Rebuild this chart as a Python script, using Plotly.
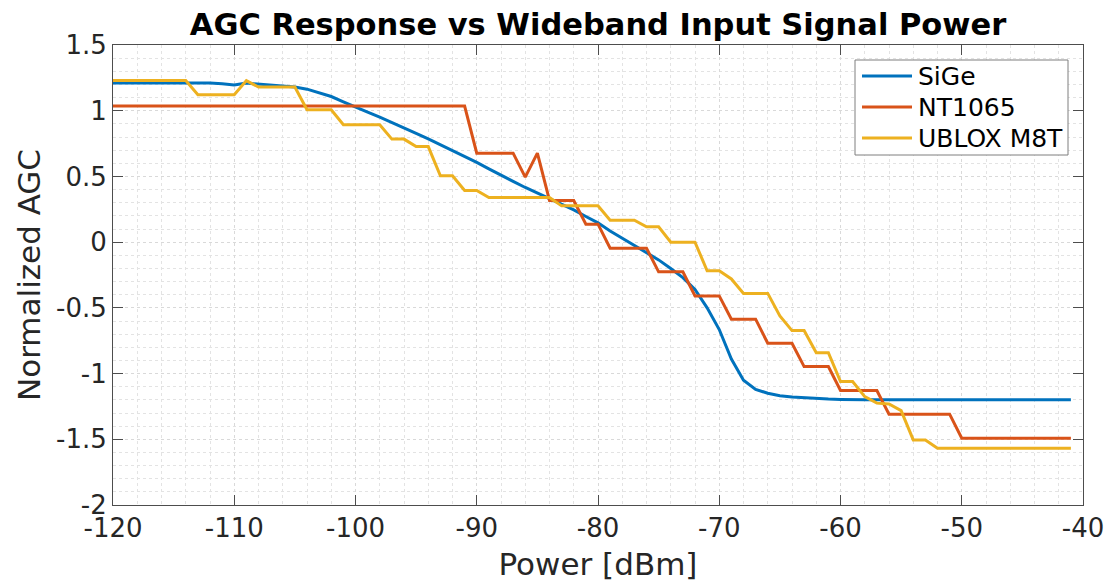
import plotly.graph_objects as go

power_dbm = list(range(-120, -40))  # -120 .. -41

sige = [1.21, 1.21, 1.212, 1.212, 1.212, 1.212, 1.212, 1.21, 1.21, 1.205,
        1.195, 1.21, 1.203, 1.197, 1.19, 1.18, 1.164, 1.138, 1.108, 1.068,
        1.026, 0.99, 0.951, 0.912, 0.872, 0.828, 0.786, 0.742, 0.697, 0.652,
        0.607, 0.558, 0.508, 0.462, 0.416, 0.372, 0.331, 0.29, 0.245, 0.195,
        0.147, 0.085, 0.03, -0.025, -0.08, -0.135, -0.2, -0.27, -0.36, -0.5,
        -0.665, -0.89, -1.05, -1.12, -1.15, -1.168, -1.178, -1.185, -1.19, -1.194,
        -1.197, -1.2, -1.2, -1.2, -1.2, -1.2, -1.2, -1.2, -1.2, -1.2,
        -1.2, -1.2, -1.2, -1.2, -1.2, -1.2, -1.2, -1.2, -1.2, -1.2]

nt1065 = [1.035] * 30 + [0.677, 0.677, 0.677, 0.677, 0.495, 0.677,
          0.317, 0.317, 0.317, 0.137, 0.137,
          -0.046, -0.046, -0.046, -0.046,
          -0.226, -0.226, -0.226,
          -0.409, -0.409, -0.409,
          -0.586, -0.586, -0.586,
          -0.769, -0.769, -0.769,
          -0.947, -0.947, -0.947,
          -1.129, -1.129, -1.129, -1.129,
          -1.309, -1.309, -1.309, -1.309, -1.309, -1.309,
          -1.492, -1.492, -1.492, -1.492, -1.492, -1.492, -1.492, -1.492, -1.492, -1.492]

ublox = [1.229] * 7 + [1.121] * 4 + [1.229] + [1.18] * 4 + [1.007] * 3 + [0.893] * 4 + \
        [0.784, 0.784, 0.727, 0.727, 0.505, 0.505, 0.393, 0.393] + [0.34] * 6 + \
        [0.276] * 4 + [0.167] * 3 + [0.117] * 2 + [0.0] * 3 + [-0.218] * 2 + [-0.28] + \
        [-0.39] * 3 + [-0.561] + [-0.673] * 2 + [-0.841] * 2 + [-1.061] * 2 + \
        [-1.175, -1.225, -1.231, -1.282] + [-1.505] * 2 + [-1.569] * 12

series_names = ["SiGe", "NT1065", "UBLOX M8T"]
series_colors = ["#0072BD", "#D95319", "#EDB120"]
x_ticks = list(range(-120, -39, 10))
y_ticks = [1.5, 1, 0.5, 0, -0.5, -1, -1.5, -2]

FONT = "DejaVu Sans"
W, H = 1107, 583
ML, MR, MT, MB = 113, 24, 45, 78
PW, PH = W - ML - MR, H - MT - MB


def px_x(p):  # window pixel -> paper x
    return (p - ML) / PW


def px_y(p):  # window pixel -> paper y
    return (H - MB - p) / PH


fig = go.Figure()
for name, ys, col in zip(series_names, [sige, nt1065, ublox], series_colors):
    fig.add_trace(go.Scatter(x=power_dbm, y=ys, mode="lines", name=name,
                             line=dict(color=col, width=3), showlegend=False))

axis_common = dict(
    showline=True, linecolor="#4d4d4d", linewidth=1, mirror="ticks",
    ticks="inside", ticklen=10, tickcolor="#4d4d4d", tickwidth=1,
    showgrid=True, gridcolor="#d9d9d9", griddash="dot", gridwidth=1,
    zeroline=False, automargin=False,
    tickfont=dict(family=FONT, size=26, color="#262626"),
)

# legend box drawn in paper coordinates
shapes = [dict(type="rect", xref="paper", yref="paper",
               x0=px_x(855), x1=px_x(1068), y0=px_y(155), y1=px_y(60),
               line=dict(color="#7f7f7f", width=1), fillcolor="white", layer="above")]
annotations = []
row_y = [76, 107, 138]
for name, col, ry in zip(series_names, series_colors, row_y):
    shapes.append(dict(type="line", xref="paper", yref="paper",
                       x0=px_x(862), x1=px_x(912), y0=px_y(ry), y1=px_y(ry),
                       line=dict(color=col, width=3), layer="above"))
    annotations.append(dict(text=name, xref="paper", yref="paper",
                            x=px_x(916), y=px_y(ry), xanchor="left", yanchor="middle",
                            showarrow=False,
                            font=dict(family=FONT, size=25, color="black")))

fig.update_layout(
    width=W, height=H,
    margin=dict(l=ML, r=MR, t=MT, b=MB),
    paper_bgcolor="white", plot_bgcolor="white",
    title=dict(text="<b>AGC Response vs Wideband Input Signal Power</b>",
               x=0.5, xref="paper", y=1 - 24 / H, yref="container",
               xanchor="center", yanchor="middle",
               font=dict(family=FONT, size=30.5, color="black")),
    xaxis=dict(range=[-120, -40], tickvals=x_ticks,
               ticktext=[str(v) for v in x_ticks],
               minor=dict(dtick=2, tick0=-120, showgrid=True, gridcolor="#e3e3e3",
                          griddash="dot", ticks=""),
               title=dict(text="Power [dBm]", font=dict(family=FONT, size=31, color="#262626"),
                          standoff=11),
               **axis_common),
    yaxis=dict(range=[-2, 1.5], tickvals=y_ticks,
               ticktext=[("%g" % v) for v in y_ticks],
               minor=dict(dtick=0.1, tick0=0, showgrid=True, gridcolor="#e3e3e3",
                          griddash="dot", ticks=""),
               title=dict(text="Normalized AGC", font=dict(family=FONT, size=31, color="#262626"),
                          standoff=6),
               **axis_common),
    shapes=shapes,
    annotations=annotations,
    showlegend=False,
)

fig.write_html(
    "out.html",
    config={"displayModeBar": False},
    post_script="document.body.style.margin='0';document.body.style.overflow='hidden';",
)
